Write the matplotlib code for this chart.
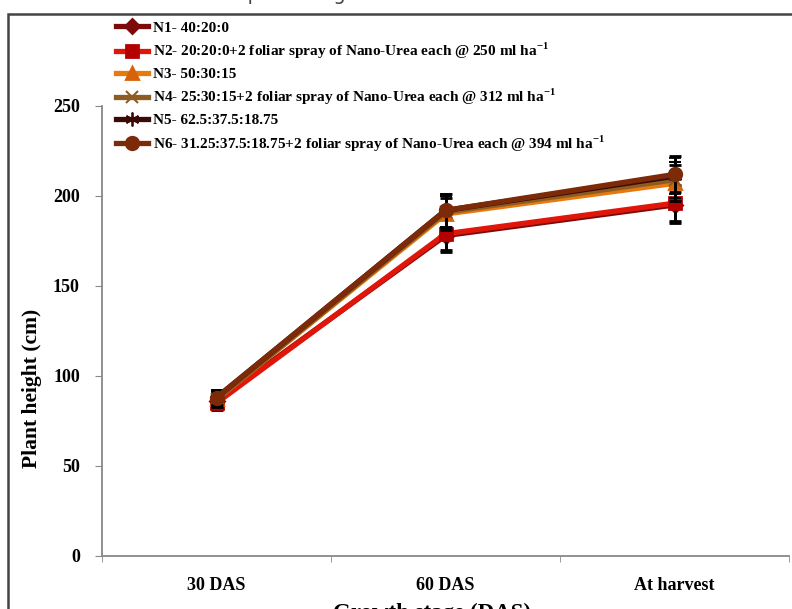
import numpy as np
import matplotlib
matplotlib.use("Agg")
from matplotlib import pyplot as plt
from matplotlib.patches import Rectangle

plt.rcParams['font.family'] = ['Liberation Serif', 'DejaVu Serif']
plt.rcParams['font.weight'] = 'bold'
plt.rcParams['mathtext.fontset'] = 'custom'
plt.rcParams['mathtext.rm'] = 'Liberation Serif:bold'
plt.rcParams['mathtext.bf'] = 'Liberation Serif:bold'

stages = ['30 DAS', '60 DAS', 'At harvest']

labels = [
    'N1- 40:20:0',
    r'N2- 20:20:0+2 foliar spray of Nano-Urea each @ 250 ml ha$^{-1}$',
    'N3- 50:30:15',
    r'N4- 25:30:15+2 foliar spray of Nano-Urea each @ 312 ml ha$^{-1}$',
    'N5- 62.5:37.5:18.75',
    r'N6- 31.25:37.5:18.75+2 foliar spray of Nano-Urea each @ 394 ml ha$^{-1}$',
]

n1 = [86, 178, 195]
n2 = [85, 179, 196]
n3 = [87, 190, 207]
n4 = [87, 191, 209]
n5 = [88, 192, 211]
n6 = [88, 192, 212]
series = [n1, n2, n3, n4, n5, n6]

err = [4, 9, 10]

line_colors = ['#7c0a0a', '#e0160a', '#e8790c', '#8c5c22', '#3a0a06', '#7c2a08']
marker_colors = ['#7c0a0a', '#b50000', '#d8620a', '#8c5c22', '#3a0a06', '#7c2a08']
markers = ['D', 's', '^', 'x', (6, 2, 0), 'o']
msizes = [7, 9, 9, 8, 10, 9]
mews = [2, 2, 2, 1.5, 1.3, 2]

fig = plt.figure(figsize=(7.92, 6.09), dpi=100)
W, H = 792, 609
ax = fig.add_axes([102 / W, 1 - 556 / H, (789 - 102) / W, (556 - 106) / H])

x = np.arange(len(stages))
handles = []
for i in range(len(series)):
    c = ax.errorbar(x, series[i], yerr=err, color=line_colors[i], lw=3.8,
                    marker=markers[i], markersize=msizes[i],
                    markerfacecolor=marker_colors[i], markeredgecolor=marker_colors[i],
                    markeredgewidth=mews[i], ecolor='black', elinewidth=2, capsize=4,
                    capthick=3, zorder=3 + i)
    handles.append(c[0])

ax.set_xlim(-0.5, 2.5)
ax.set_ylim(0, 250)
ax.set_yticks([0, 50, 100, 150, 200, 250])
ax.set_xticks(x)
ax.set_xticklabels(stages)
ax.set_xticks([-0.5, 0.5, 1.5, 2.5], minor=True)
ax.tick_params(axis='x', which='major', length=0, pad=15, labelsize=13)
ax.tick_params(axis='x', which='minor', length=4, direction='out', color='#888888')
ax.tick_params(axis='y', length=5, direction='out', color='#888888', pad=11, labelsize=13)
for lbl in ax.get_xticklabels() + ax.get_yticklabels():
    lbl.set_fontweight('bold')

ax.spines['top'].set_visible(False)
ax.spines['right'].set_visible(False)
ax.spines['left'].set_color('#888888')
ax.spines['bottom'].set_color('#888888')
ax.spines['left'].set_linewidth(1.3)
ax.spines['bottom'].set_linewidth(1.3)

fig.text(32 / W, 1 - 388 / H, 'Plant height (cm)', rotation=90, ha='center',
         va='center', fontsize=15.5, fontweight='bold')
fig.text(432 / W, 1 - 619 / H, 'Growth stage (DAS)', ha='center',
         va='baseline', fontsize=16.5, fontweight='bold')

# cropped caption above the frame
fig.text(15 / W, 1 + 0.5 / H, 'Effect of treatments on plant height', ha='left',
         va='baseline', fontsize=14, color='#444444', family='DejaVu Sans',
         fontweight='normal')

# outer frame
fig.patches.append(Rectangle((8 / W, -0.05), 1.2, 1 - 14 / H + 0.05,
                             transform=fig.transFigure, fill=False,
                             edgecolor='#444444', lw=1.8))

ax.legend(handles, labels, loc='upper left', bbox_to_anchor=(116 / W, 1 - 21 / H),
          bbox_transform=fig.transFigure, frameon=False, fontsize=11,
          handlelength=2.1, handletextpad=0.3, labelspacing=0.4,
          borderaxespad=0, borderpad=0)

fig.savefig('out.png', dpi=100)
